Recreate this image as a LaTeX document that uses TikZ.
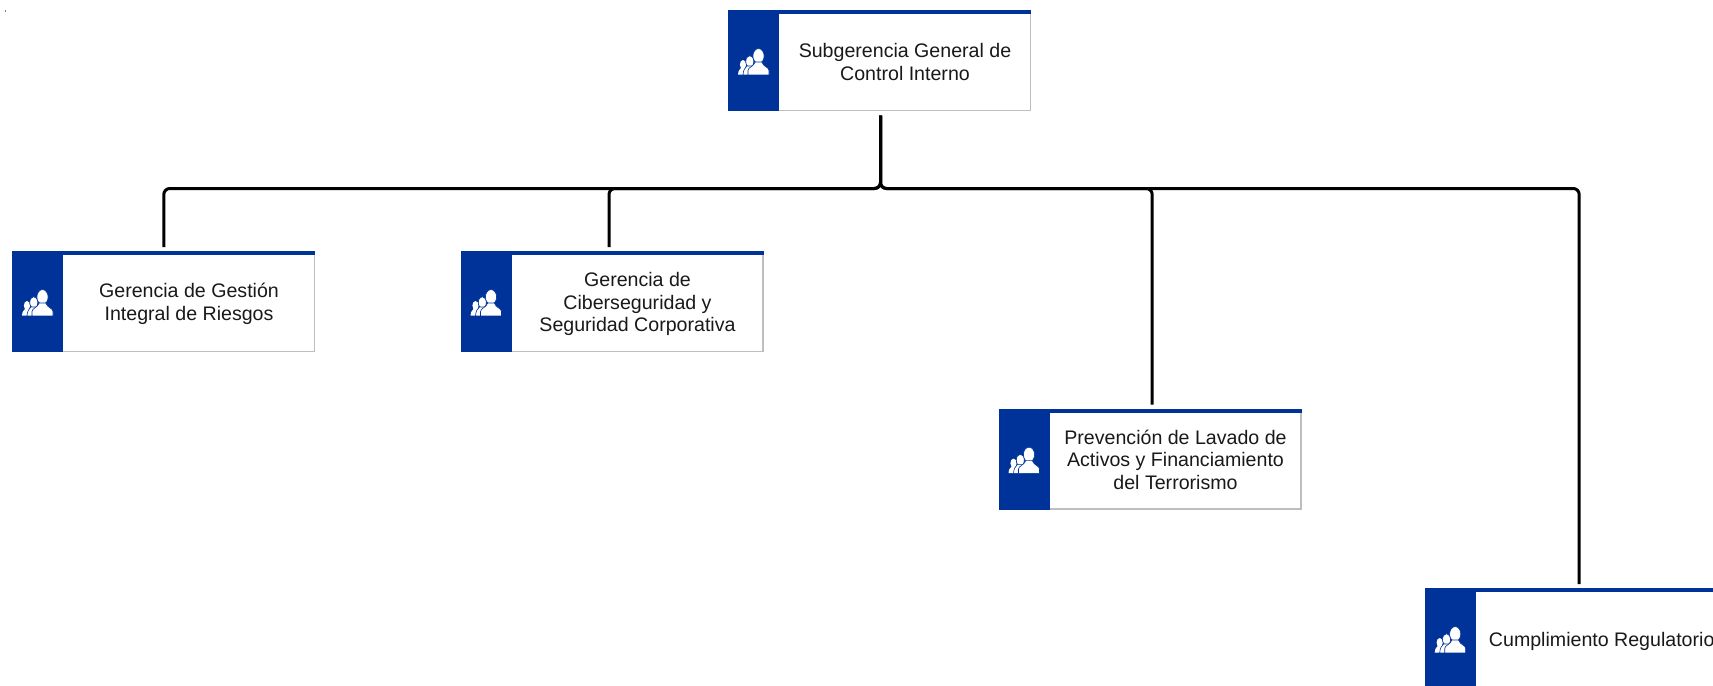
\documentclass[tikz,border=0pt]{standalone}
\usepackage{fontspec}
\setmainfont{Liberation Sans}
\definecolor{cardblue}{RGB}{0,51,153}
\definecolor{cardgray}{RGB}{190,190,190}
\tikzset{
  cardbox/.style={draw=cardgray,line width=1.5pt,fill=white,minimum width=301.5pt,minimum height=99.5pt,inner sep=0pt,anchor=north west},
  cardband/.style={fill=cardblue,draw=none,minimum width=51pt,minimum height=101pt,inner sep=0pt,outer sep=0pt,anchor=north west},
  cardbar/.style={fill=cardblue,draw=none,minimum width=303pt,minimum height=4pt,inner sep=0pt,outer sep=0pt,anchor=north west},
  cardtext/.style={align=center,font=\fontsize{19.6}{22.6}\selectfont,text=black!90,inner sep=0pt},
  link/.style={draw=black,line width=3pt,rounded corners=6pt},
  pics/people/.style={code={
    \fill[white] (15,54.6) ellipse[x radius=3.1,y radius=4.6];
    \fill[white] (10,64.5) .. controls (10.4,60) and (11.5,60) .. (13,58) -- (17,58) -- (15,64.5) -- cycle;
    \fill[white,draw=cardblue,line width=0.6pt] (21.8,51.5) ellipse[x radius=4,y radius=5.8];
    \fill[white,draw=cardblue,line width=0.6pt] (15,64.8) .. controls (15.4,60) and (16.5,58.5) .. (18.8,56) -- (24,56) -- (26,64.8) -- cycle;
    \fill[white,draw=cardblue,line width=0.6pt] (30.5,46) ellipse[x radius=5.6,y radius=7.4];
    \fill[white,draw=cardblue,line width=0.6pt] (20,64.8) -- (20,60.5) .. controls (20.2,57) and (25.5,57) .. (27.2,52) -- (33.8,52) .. controls (35.4,57) and (40.8,57) .. (41,60.5) -- (41,64.8) -- cycle;
  }}
}
\newcommand{\orgcard}[4]{%
  \node[cardbox] (#1) at (#2) {};
  \node[cardband] (#1-band) at (#1.north west) {};
  \node[cardbar] (#1-bar) at (#1.north west) {};
  \pic at (#1.north west) {people};
  \node[cardtext] (#1-text) at ([shift={(25.5,#4)}]#1.center) {#3};
}
\begin{document}
\begin{tikzpicture}[x=1pt,y=-1pt]
\useasboundingbox (0,0) rectangle (1713,685.8);
\clip (0,0) rectangle (1713,685.8);
\fill[gray] (4.5,10) rectangle (6,11.5);
\orgcard{top}{728,10}{Subgerencia General de\\Control Interno}{1.2}
\orgcard{riesgos}{12,251}{Gerencia de Gestión\\Integral de Riesgos}{2.2}
\orgcard{ciber}{460.5,251}{Gerencia de\\Ciberseguridad y\\Seguridad Corporativa}{2.5}
\orgcard{lavado}{998.5,408.6}{Prevención de Lavado de\\Activos y Financiamiento\\del Terrorismo}{0.5}
\orgcard{cumpl}{1424.7,588}{Cumplimiento Regulatorio}{2.5}
\coordinate (hub) at ([shift={(1,77.5)}]top.south);
\coordinate (start) at ([shift={(1,4.5)}]top.south);
\draw[link] (start) -- (hub) -| ([shift={(0.3,-4)}]riesgos.north);
\draw[link] (start) -- (hub) -| ([shift={(-3,-4)}]ciber.north);
\draw[link] (start) -- (hub) -| ([shift={(2.2,-4)}]lavado.north);
\draw[link] (start) -- (hub) -| ([shift={(3,-4)}]cumpl.north);
\end{tikzpicture}
\end{document}
